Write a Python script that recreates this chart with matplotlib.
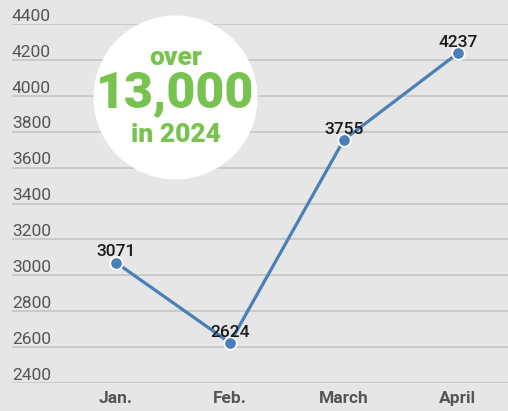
import matplotlib.pyplot as plt
from matplotlib.patches import Ellipse

months = ["Jan.", "Feb.", "March", "April"]
counts = [3071, 2624, 3755, 4237]
y_ticks = [2400, 2600, 2800, 3000, 3200, 3400, 3600, 3800, 4000, 4200, 4400]

bg = "#e6e6e6"
line_col = "#4a7fb8"
green = "#78c250"

plt.rcParams['font.family'] = ['Roboto', 'DejaVu Sans']

fig = plt.figure(figsize=(5.08, 4.11), dpi=100, facecolor=bg)
W, H = 508, 411
ax = fig.add_axes([12 / W, 1 - 383 / H, (W - 12) / W, (383 - 24) / H])
ax.set_facecolor(bg)

x = list(range(len(months)))
ax.set_xlim(-0.912, 3.44)
ax.set_ylim(2400, 4400)

# gridlines with the labels sitting on top of them
for t in y_ticks:
    ax.axhline(t, color="#c8c8c8", lw=1.3, zorder=1)
    ax.text(0, t + 18, str(t), transform=ax.get_yaxis_transform(),
            ha="left", va="baseline", fontsize=12.5, color="#555555")

ax.plot(x, counts, color=line_col, lw=2.3, zorder=3,
        marker="o", markersize=9, markerfacecolor=line_col,
        markeredgecolor="white", markeredgewidth=1.3)

for xi, v in zip(x, counts):
    ax.annotate(str(v), (xi, v), xytext=(0, 4.5), textcoords="offset points",
                ha="center", va="baseline", fontsize=12.5, color="#1a1a1a",
                fontweight="medium", zorder=4)

ax.set_xticks(x)
ax.set_xticklabels(months, fontsize=12.5, fontweight="bold", color="#555555")
ax.tick_params(axis="x", length=0, pad=6)
ax.set_yticks([])
for s in ax.spines.values():
    s.set_visible(False)

# white badge
cx, cy, r = 175.5, 97.5, 82
circ = Ellipse((cx / W, 1 - cy / H), 2 * r / W, 2 * r / H,
               transform=fig.transFigure, facecolor="white",
               edgecolor="none", zorder=5)
fig.patches.append(circ)
fig.text(cx / W, 1 - 58 / H, "over", ha="center", va="center",
         fontsize=19, fontweight="heavy", color=green, zorder=6)
fig.text(cx / W, 1 - 94 / H, "13,000", ha="center", va="center",
         fontsize=36, fontweight="heavy", color=green, zorder=6)
fig.text(cx / W, 1 - 135 / H, "in 2024", ha="center", va="center",
         fontsize=19, fontweight="heavy", color=green, zorder=6)

fig.savefig("out.png", dpi=100, facecolor=bg)
